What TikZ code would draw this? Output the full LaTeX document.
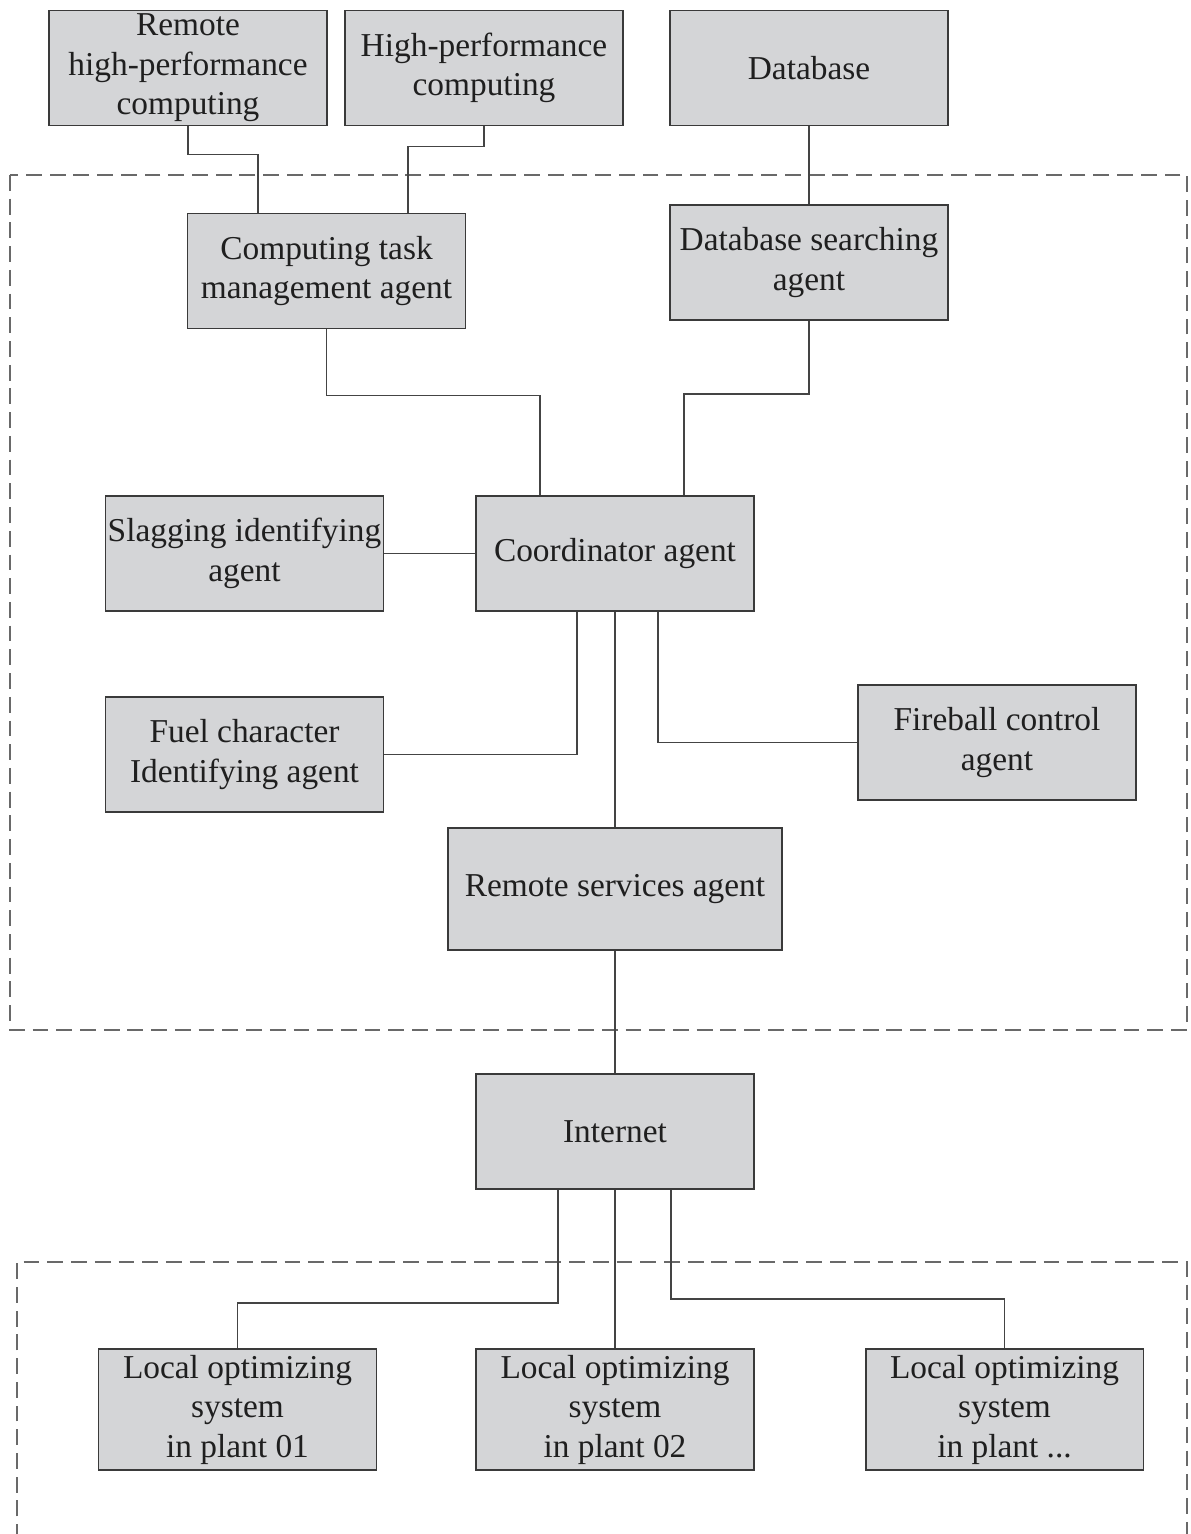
\documentclass[tikz,border=0pt]{standalone}
\usepackage{fontspec}
\setmainfont{Liberation Serif}
\usetikzlibrary{calc}
\definecolor{boxfill}{RGB}{212,213,215}
\definecolor{boxline}{RGB}{58,58,58}
\definecolor{wire}{RGB}{68,68,68}
\definecolor{zonegray}{RGB}{105,105,105}
\begin{document}
\begin{tikzpicture}[x=0.02cm, y=-0.02cm,
    agent/.style={draw=boxline, fill=boxfill, line width=1.1pt, inner sep=0pt,
        minimum width=5.56cm, minimum height=2.3cm, align=center,
        text=black!88, font=\fontsize{19}{22.5}\selectfont},
    link/.style={draw=wire, line width=0.85pt},
    zone/.style={draw=zonegray, line width=1.1pt, dash pattern=on 9pt off 4.5pt}]
    \useasboundingbox (0,0) rectangle (1190,1534);

    \draw[zone] (10,175) rectangle (1187,1030);
    \draw[zone] (17,1540) -- (17,1262) -- (1187,1262) -- (1187,1540);

    \node[agent] (rhpc) at (188,68) {Remote\\high-performance\\computing};
    \node[agent] (hpc) at (484,68) {High-performance\\computing};
    \node[agent] (db) at (809,68) {Database};

    \node[agent] (ctm) at (326.5,271) {Computing task\\management agent};
    \node[agent] (dbs) at (809,262.5) {Database searching\\agent};

    \node[agent] (slag) at (244.5,553.5) {Slagging identifying\\agent};
    \node[agent] (coord) at (615,553.5) {Coordinator agent};
    \node[agent] (fuel) at (244.5,754.5) {Fuel character\\Identifying agent};
    \node[agent] (fire) at (997,742.5) {Fireball control\\agent};
    \node[agent, minimum width=6.68cm, minimum height=2.44cm] (rsa) at (615,889) {Remote services agent};

    \node[agent] (inet) at (615,1131.5) {Internet};

    \node[agent, minimum height=2.42cm] (lo1) at (237.5,1409.5) {Local optimizing\\system\\in plant 01};
    \node[agent, minimum height=2.42cm] (lo2) at (615,1409.5) {Local optimizing\\system\\in plant 02};
    \node[agent, minimum height=2.42cm] (lo3) at (1004.5,1409.5) {Local optimizing\\system\\in plant ...};

    \draw[link] (rhpc.south) -- ++(0,28) -| ($(ctm.north)+(-68.5,0)$);
    \draw[link] (hpc.south) -- ++(0,20) -| ($(ctm.north)+(81.5,0)$);
    \draw[link] (db.south) -- (dbs.north);

    \draw[link] (ctm.south) -- ++(0,66) -| ($(coord.north)+(-75,0)$);
    \draw[link] (dbs.south) -- ++(0,73) -| ($(coord.north)+(69,0)$);

    \draw[link] (slag.east) -- (coord.west);
    \draw[link] ($(coord.south)+(-38,0)$) |- (fuel.east);
    \draw[link] ($(coord.south)+(43,0)$) |- (fire.west);
    \draw[link] (coord.south) -- (rsa.north);
    \draw[link] (rsa.south) -- (inet.north);

    \draw[link] ($(inet.south)+(-57,0)$) -- ++(0,113) -| (lo1.north);
    \draw[link] (inet.south) -- (lo2.north);
    \draw[link] ($(inet.south)+(56,0)$) -- ++(0,109) -| (lo3.north);
\end{tikzpicture}
\end{document}
